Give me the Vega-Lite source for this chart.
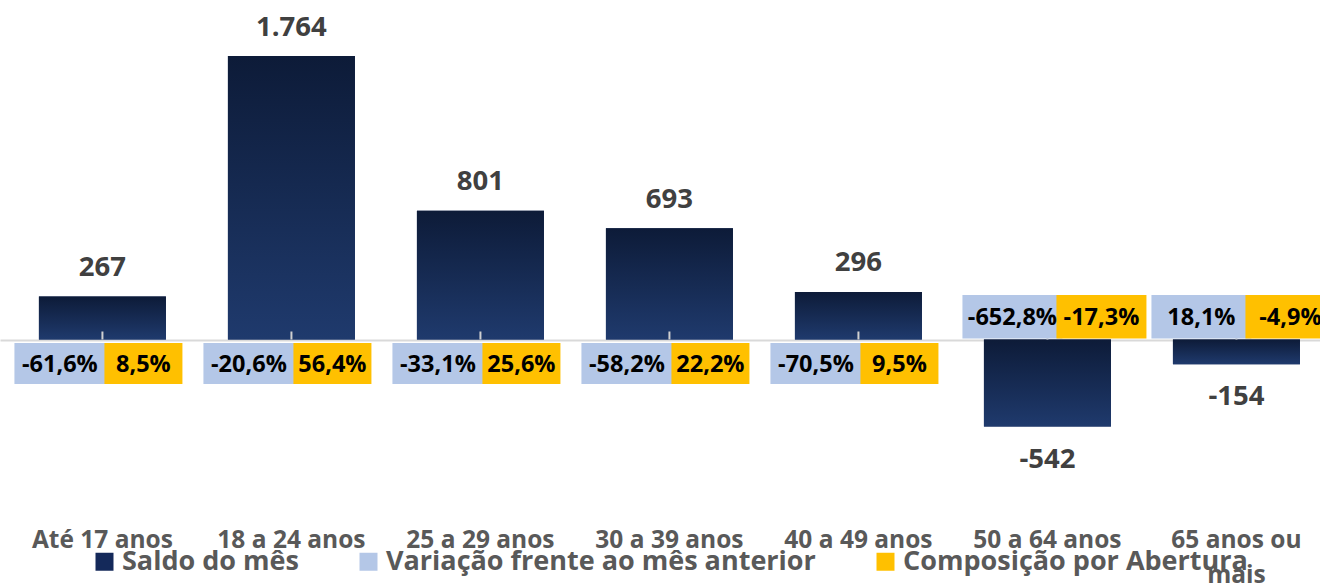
{
  "$schema": "https://vega.github.io/schema/vega-lite/v6.json",
  "width": 1320,
  "height": 520,
  "autosize": {"type": "none"},
  "padding": {"left": 0, "top": 0, "right": 0, "bottom": 63},
  "background": "white",
  "config": {
    "view": {"stroke": null},
    "font": "Open Sans"
  },
  "data": {
    "values": [
      {"faixa": "Até 17 anos", "saldo": 267, "variacao": -0.616, "composicao": 0.085},
      {"faixa": "18 a 24 anos", "saldo": 1764, "variacao": -0.206, "composicao": 0.564},
      {"faixa": "25 a 29 anos", "saldo": 801, "variacao": -0.331, "composicao": 0.256},
      {"faixa": "30 a 39 anos", "saldo": 693, "variacao": -0.582, "composicao": 0.222},
      {"faixa": "40 a 49 anos", "saldo": 296, "variacao": -0.705, "composicao": 0.095},
      {"faixa": "50 a 64 anos", "saldo": -542, "variacao": -6.528, "composicao": -0.173},
      {"faixa": "65 anos ou mais", "saldo": -154, "variacao": 0.181, "composicao": -0.049}
    ]
  },
  "transform": [
    {"calculate": "replace(replace(format(datum.variacao, '.1%'), '.', ','), '\u2212', '-')", "as": "var_txt"},
    {"calculate": "replace(replace(format(datum.composicao, '.1%'), '.', ','), '\u2212', '-')", "as": "comp_txt"},
    {"calculate": "replace(replace(format(datum.saldo, ','), ',', '.'), '\u2212', '-')", "as": "saldo_txt"}
  ],
  "layer": [
    {
      "transform": [{"calculate": "'Saldo do mês'", "as": "serie"}],
      "mark": {"type": "bar"},
      "encoding": {
        "x": {
          "field": "faixa", "type": "nominal", "sort": null,
          "scale": {"paddingInner": 0.328, "paddingOuter": 0.156, "align": 0.66},
          "axis": {
            "title": null, "domain": false, "ticks": false, "labelAngle": 0,
            "labelPadding": 8, "labelFont": "Open Sans", "labelFontSize": 24.5,
            "labelFontWeight": "bold", "labelColor": "#595959", "labelLimit": 0,
            "labelOverlap": false, "labelBound": false, "labelLineHeight": 35,
            "labelExpr": "datum.value == '65 anos ou mais' ? ['65 anos ou', 'mais'] : datum.label"
          }
        },
        "y": {
          "field": "saldo", "type": "quantitative", "stack": null,
          "scale": {"domain": [-1123.1, 2112.5], "nice": false, "zero": false},
          "axis": {
            "values": [0], "grid": true, "gridColor": "#d9d9d9", "gridWidth": 2,
            "labels": false, "ticks": false, "domain": false, "title": null
          }
        },
        "color": {
          "field": "serie", "type": "nominal",
          "scale": {
            "domain": ["Saldo do mês", "Variação frente ao mês anterior", "Composição por Abertura"],
            "range": ["#14295a", "#b4c7e7", "#ffc000"]
          },
          "legend": {
            "title": null, "orient": "none", "legendX": 91, "legendY": 548,
            "direction": "horizontal", "columnPadding": 56,
            "symbolType": "square", "symbolSize": 324, "symbolStrokeWidth": 0,
            "labelOffset": 4, "labelFont": "Open Sans", "labelFontSize": 27,
            "labelFontWeight": "bold", "labelColor": "#595959", "labelLimit": 1000,
            "padding": 0
          }
        }
      }
    },
    {
      "mark": {
        "type": "bar",
        "color": {
          "gradient": "linear", "x1": 0, "y1": 0, "x2": 0, "y2": 1,
          "stops": [{"offset": 0, "color": "#0d1b38"}, {"offset": 1, "color": "#1f3a6d"}]
        }
      },
      "encoding": {
        "x": {"field": "faixa", "type": "nominal", "sort": null},
        "y": {"field": "saldo", "type": "quantitative", "stack": null}
      }
    },
    {
      "mark": {"type": "rule", "color": "#d0d0d0", "strokeWidth": 2, "y2Offset": -8},
      "encoding": {
        "x": {"field": "faixa", "type": "nominal", "sort": null},
        "y": {"datum": 0, "type": "quantitative"},
        "y2": {"datum": 0}
      }
    },
    {
      "transform": [{"filter": "datum.saldo > 0"}],
      "mark": {"type": "bar", "width": 91, "xOffset": -42.5, "yOffset": 3.5, "y2Offset": 44.5, "color": "#b4c7e7"},
      "encoding": {
        "x": {"field": "faixa", "type": "nominal", "sort": null},
        "y": {"datum": 0, "type": "quantitative"},
        "y2": {"datum": 0}
      }
    },
    {
      "transform": [{"filter": "datum.saldo < 0"}],
      "mark": {"type": "bar", "width": 100, "xOffset": -35, "yOffset": -1, "y2Offset": -44.5, "color": "#b4c7e7"},
      "encoding": {
        "x": {"field": "faixa", "type": "nominal", "sort": null},
        "y": {"datum": 0, "type": "quantitative"},
        "y2": {"datum": 0}
      }
    },
    {
      "transform": [{"filter": "datum.saldo > 0"}],
      "mark": {"type": "bar", "width": 78, "xOffset": 41, "yOffset": 3.5, "y2Offset": 44.5, "color": "#ffc000"},
      "encoding": {
        "x": {"field": "faixa", "type": "nominal", "sort": null},
        "y": {"datum": 0, "type": "quantitative"},
        "y2": {"datum": 0}
      }
    },
    {
      "transform": [{"filter": "datum.saldo < 0"}],
      "mark": {"type": "bar", "width": 90, "xOffset": 54, "yOffset": -1, "y2Offset": -44.5, "color": "#ffc000"},
      "encoding": {
        "x": {"field": "faixa", "type": "nominal", "sort": null},
        "y": {"datum": 0, "type": "quantitative"},
        "y2": {"datum": 0}
      }
    },
    {
      "transform": [{"filter": "datum.saldo > 0"}],
      "mark": {"type": "text", "xOffset": -42.5, "yOffset": 25.4, "baseline": "middle", "align": "center", "font": "Open Sans", "fontSize": 23.5, "fontWeight": "bold", "color": "#000000"},
      "encoding": {
        "x": {"field": "faixa", "type": "nominal", "sort": null},
        "y": {"datum": 0, "type": "quantitative"},
        "text": {"field": "var_txt", "type": "nominal"}
      }
    },
    {
      "transform": [{"filter": "datum.saldo < 0"}],
      "mark": {"type": "text", "xOffset": -35, "yOffset": -21.3, "baseline": "middle", "align": "center", "font": "Open Sans", "fontSize": 23.5, "fontWeight": "bold", "color": "#000000"},
      "encoding": {
        "x": {"field": "faixa", "type": "nominal", "sort": null},
        "y": {"datum": 0, "type": "quantitative"},
        "text": {"field": "var_txt", "type": "nominal"}
      }
    },
    {
      "transform": [{"filter": "datum.saldo > 0"}],
      "mark": {"type": "text", "xOffset": 41, "yOffset": 25.4, "baseline": "middle", "align": "center", "font": "Open Sans", "fontSize": 23.5, "fontWeight": "bold", "color": "#000000"},
      "encoding": {
        "x": {"field": "faixa", "type": "nominal", "sort": null},
        "y": {"datum": 0, "type": "quantitative"},
        "text": {"field": "comp_txt", "type": "nominal"}
      }
    },
    {
      "transform": [{"filter": "datum.saldo < 0"}],
      "mark": {"type": "text", "xOffset": 54, "yOffset": -21.3, "baseline": "middle", "align": "center", "font": "Open Sans", "fontSize": 23.5, "fontWeight": "bold", "color": "#000000"},
      "encoding": {
        "x": {"field": "faixa", "type": "nominal", "sort": null},
        "y": {"datum": 0, "type": "quantitative"},
        "text": {"field": "comp_txt", "type": "nominal"}
      }
    },
    {
      "transform": [{"filter": "datum.saldo > 0"}],
      "mark": {"type": "text", "dy": -20.5, "baseline": "alphabetic", "align": "center", "font": "Open Sans", "fontSize": 27.5, "fontWeight": "bold", "color": "#404040"},
      "encoding": {
        "x": {"field": "faixa", "type": "nominal", "sort": null},
        "y": {"field": "saldo", "type": "quantitative"},
        "text": {"field": "saldo_txt", "type": "nominal"}
      }
    },
    {
      "transform": [{"filter": "datum.saldo < 0"}],
      "mark": {"type": "text", "dy": 41, "baseline": "alphabetic", "align": "center", "font": "Open Sans", "fontSize": 27.5, "fontWeight": "bold", "color": "#404040"},
      "encoding": {
        "x": {"field": "faixa", "type": "nominal", "sort": null},
        "y": {"field": "saldo", "type": "quantitative"},
        "text": {"field": "saldo_txt", "type": "nominal"}
      }
    }
  ]
}
